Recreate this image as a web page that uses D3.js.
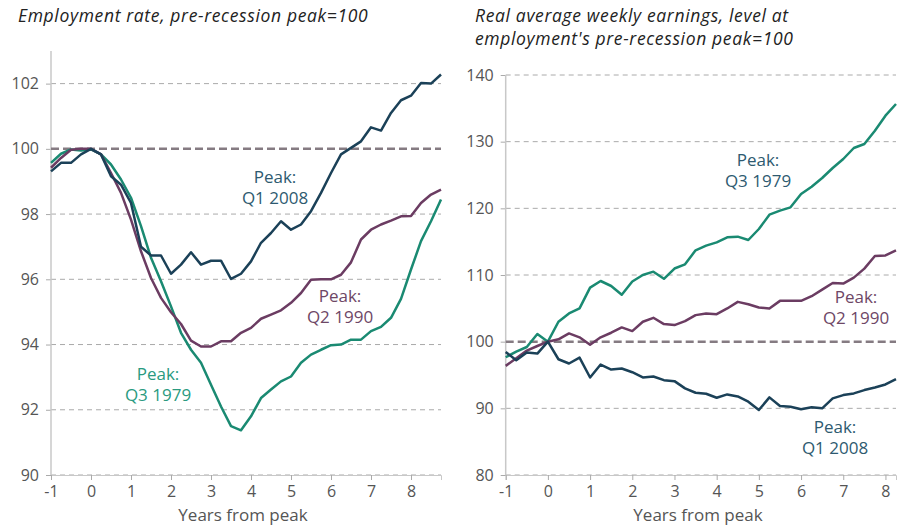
<!DOCTYPE html>
<html>
<head>
<meta charset="utf-8">
<script src="https://cdn.jsdelivr.net/npm/d3@7"></script>
<style>
  body { margin: 0; background: #fff; }
  svg text { font-family: "Open Sans", Lato, sans-serif; }
</style>
</head>
<body>
<div id="chart"></div>
<script>
// quarters from peak
const quartersEmp = d3.range(-1, 8.76, 0.25);   // -1 .. 8.75
const quartersPay = d3.range(-1, 8.26, 0.25);   // -1 .. 8.25

// Employment rate, pre-recession peak = 100
const empQ1_2008 = [99.31, 99.57, 99.57, 99.83, 100, 99.83, 99.16, 98.9, 98.34, 97.0, 96.73, 96.73, 96.17, 96.45, 96.83, 96.45, 96.57, 96.57, 96.01, 96.17, 96.55, 97.12, 97.42, 97.78, 97.52, 97.68, 98.09, 98.65, 99.26, 99.83, 100.03, 100.23, 100.66, 100.56, 101.1, 101.49, 101.63, 102.02, 102.0, 102.28];
const empQ2_1990 = [99.42, 99.72, 99.97, 100, 100, 99.83, 99.26, 98.65, 97.83, 96.86, 96.04, 95.43, 94.99, 94.63, 94.12, 93.94, 93.94, 94.1, 94.1, 94.36, 94.51, 94.79, 94.92, 95.05, 95.28, 95.58, 95.99, 96.0, 96.0, 96.14, 96.52, 97.22, 97.52, 97.68, 97.8, 97.93, 97.94, 98.34, 98.6, 98.75];
const empQ3_1979 = [99.57, 99.85, 99.98, 99.95, 99.98, 99.83, 99.52, 99.06, 98.5, 97.63, 96.66, 95.94, 95.17, 94.36, 93.84, 93.44, 92.77, 92.1, 91.5, 91.37, 91.8, 92.36, 92.62, 92.87, 93.02, 93.44, 93.69, 93.84, 93.98, 94.0, 94.15, 94.15, 94.41, 94.54, 94.82, 95.4, 96.3, 97.17, 97.78, 98.45];

// Real average weekly earnings, employment's pre-recession peak = 100
const payQ1_2008 = [98.46, 97.21, 98.36, 98.21, 100, 97.36, 96.72, 97.61, 94.63, 96.57, 95.82, 95.97, 95.42, 94.63, 94.78, 94.23, 94.08, 92.99, 92.34, 92.19, 91.59, 92.09, 91.79, 90.99, 89.75, 91.64, 90.35, 90.25, 89.85, 90.15, 90.0, 91.49, 91.99, 92.24, 92.74, 93.13, 93.58, 94.38];
const payQ2_1990 = [96.37, 97.51, 98.66, 99.35, 100, 100.35, 101.24, 100.65, 99.55, 100.65, 101.34, 102.14, 101.59, 102.99, 103.58, 102.64, 102.49, 103.08, 103.98, 104.23, 104.13, 104.98, 105.97, 105.62, 105.12, 104.98, 106.12, 106.12, 106.12, 106.82, 107.81, 108.81, 108.71, 109.6, 110.95, 112.84, 112.94, 113.68];
const payQ3_1979 = [97.66, 98.51, 99.2, 101.14, 100, 102.99, 104.23, 105.0, 108.1, 109.1, 108.35, 107.03, 109.03, 110.0, 110.5, 109.43, 110.97, 111.6, 113.7, 114.4, 114.9, 115.65, 115.75, 115.25, 116.9, 119.05, 119.65, 120.15, 122.15, 123.25, 124.55, 126.05, 127.4, 129.05, 129.65, 131.65, 133.9, 135.65];

const xTicks = [-1, 0, 1, 2, 3, 4, 5, 6, 7, 8];
const empTicks = [90, 92, 94, 96, 98, 100, 102];
const payTicks = [80, 90, 100, 110, 120, 130, 140];

const navy = "#1b4158", green = "#1a8a72", purple = "#6b3c62";

const width = 900, height = 528;
const svg = d3.select("#chart").append("svg")
    .attr("width", width)
    .attr("height", height);

function drawPanel(opt) {
    const x = d3.scaleLinear().domain(opt.xDomain).range(opt.xRange);
    const y = d3.scaleLinear().domain(opt.yDomain).range([475, opt.top]);
    const g = svg.append("g");

    // gridlines
    g.selectAll("line.grid")
        .data(opt.yTicks.filter(d => d !== 100))
        .enter().append("line")
        .attr("x1", opt.xRange[0]).attr("x2", opt.xRange[1])
        .attr("y1", d => y(d)).attr("y2", d => y(d))
        .attr("stroke", "#aaa")
        .attr("stroke-width", 1)
        .attr("stroke-dasharray", "5,4");

    // x axis (plain hyphen for -1, as in the original)
    const xAxis = g.append("g")
        .attr("transform", `translate(0,${y(opt.yDomain[0])})`)
        .call(d3.axisBottom(x).tickValues(xTicks).tickSize(5).tickPadding(6).tickFormat(d => String(d)));
    xAxis.select(".domain").attr("stroke", "#c8c8c8").attr("stroke-width", 1);
    xAxis.selectAll(".tick line").attr("stroke", "#aaa");
    xAxis.selectAll("text").attr("fill", "#555").style("font-size", "16px");

    // y axis
    const yAxis = g.append("g")
        .attr("transform", `translate(${opt.xRange[0]},0)`)
        .call(d3.axisLeft(y).tickValues(opt.yTicks).tickSize(5).tickPadding(7).tickFormat(d => String(d)));
    yAxis.select(".domain").remove();
    yAxis.selectAll(".tick line").attr("stroke", "#aaa");
    yAxis.selectAll("text").attr("fill", "#555").style("font-size", "16px");
    g.append("line")
        .attr("x1", opt.xRange[0]).attr("x2", opt.xRange[0])
        .attr("y1", y(opt.yDomain[1])).attr("y2", y(opt.yDomain[0]))
        .attr("stroke", "#c8c8c8").attr("stroke-width", 1.5);

    // baseline at 100
    g.append("line")
        .attr("x1", opt.xRange[0]).attr("x2", opt.xRange[1])
        .attr("y1", y(100)).attr("y2", y(100))
        .attr("stroke", "#857b82")
        .attr("stroke-width", 2.5)
        .attr("stroke-dasharray", "8,4");

    const line = d3.line()
        .x((d, i) => x(opt.quarters[i]))
        .y(d => y(d));

    opt.series.forEach(s => {
        g.append("path")
            .datum(s.values)
            .attr("fill", "none")
            .attr("stroke", s.color)
            .attr("stroke-width", 2.5)
            .attr("stroke-linejoin", "round")
            .attr("d", line);
    });

    opt.labels.forEach(l => {
        const t = g.append("text")
            .attr("x", l.x).attr("y", l.y)
            .attr("text-anchor", "middle")
            .attr("fill", l.color)
            .style("font-size", "17px");
        t.append("tspan").attr("x", l.x).text("Peak:");
        t.append("tspan").attr("x", l.x).attr("dy", 21).text(l.text);
    });

    // x axis title
    g.append("text")
        .attr("x", opt.xTitleX).attr("y", 521)
        .attr("text-anchor", "middle")
        .attr("fill", "#555")
        .style("font-size", "17px")
        .text("Years from peak");

    // panel title
    const title = g.append("text")
        .attr("x", opt.titleX).attr("y", 22)
        .attr("fill", "#222")
        .style("font-size", "17.5px")
        .style("letter-spacing", "0.65px")
        .style("font-style", "italic");
    opt.title.forEach((s, i) => {
        title.append("tspan").attr("x", opt.titleX).attr("dy", i ? 23 : 0).text(s);
    });
}

drawPanel({
    xDomain: [-1, 8.75], xRange: [51, 441],
    yDomain: [90, 103], top: 51,
    yTicks: empTicks,
    quarters: quartersEmp,
    series: [
        { values: empQ3_1979, color: green },
        { values: empQ2_1990, color: purple },
        { values: empQ1_2008, color: navy }
    ],
    labels: [
        { x: 275, y: 183, text: "Q1 2008", color: "#2e5a70" },
        { x: 340, y: 302, text: "Q2 1990", color: "#6e4766" },
        { x: 158, y: 380, text: "Q3 1979", color: "#2a9a80" }
    ],
    xTitleX: 243,
    titleX: 18,
    title: ["Employment rate, pre-recession peak=100"]
});

drawPanel({
    xDomain: [-1, 8.25], xRange: [505.7, 896],
    yDomain: [80, 140], top: 75,
    yTicks: payTicks,
    quarters: quartersPay,
    series: [
        { values: payQ3_1979, color: green },
        { values: payQ2_1990, color: purple },
        { values: payQ1_2008, color: navy }
    ],
    labels: [
        { x: 758, y: 166, text: "Q3 1979", color: "#2e5a70" },
        { x: 856, y: 303, text: "Q2 1990", color: "#6e4766" },
        { x: 835, y: 433, text: "Q1 2008", color: "#2e5a70" }
    ],
    xTitleX: 698,
    titleX: 475,
    title: ["Real average weekly earnings, level at", "employment's pre-recession peak=100"]
});
</script>
</body>
</html>
